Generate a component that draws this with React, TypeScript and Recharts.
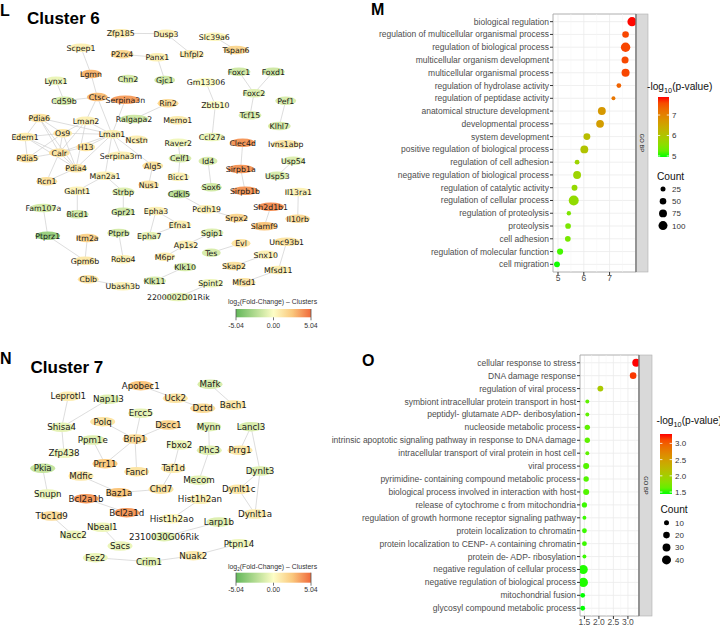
import React from "react";
import {
  ScatterChart,
  Scatter,
  XAxis,
  YAxis,
  CartesianGrid,
  ReferenceLine,
  ReferenceArea,
} from "recharts";

// ---------- Cluster 6 network: [gene, layoutX, layoutY, log2 fold change] ----------
const cluster6Nodes: [string, number, number, number][] = [
  ["Zfp185", 120.7, 33.3, 0.8],
  ["Dusp3", 166, 33.7, 0.7],
  ["Slc39a6", 214.3, 36.7, 0.3],
  ["Tspan6", 236, 50, 1.8],
  ["Scpep1", 81, 47.7, 0.6],
  ["P2rx4", 122, 54.3, 1.8],
  ["Panx1", 157.3, 57.3, 0.6],
  ["Lhfpl2", 191.7, 54.3, 0.8],
  ["Lgmn", 91, 74, 3.0],
  ["Chn2", 128, 79, -1.2],
  ["Gjc1", 164.7, 80, -1.5],
  ["Gm13306", 206, 82.3, 0.0],
  ["Foxc1", 239, 71.7, -1.5],
  ["Foxd1", 273.3, 71.7, -1.5],
  ["Lynx1", 56, 80.7, -0.6],
  ["Cd59b", 64, 100.7, -1.3],
  ["Ctsc", 97.3, 97, 2.8],
  ["Serpina3n", 125.3, 99.7, 3.6],
  ["Rin2", 168, 103.3, 1.6],
  ["Foxc2", 254, 93.3, -1.0],
  ["Pef1", 285.7, 100.7, -1.2],
  ["Zbtb10", 215.3, 105.3, 0.0],
  ["Tcf15", 250, 115.3, -1.2],
  ["Pdia6", 39.3, 118, 1.2],
  ["Lman2", 86, 120.7, 0.6],
  ["Ralgapa2", 134, 119, -1.5],
  ["Memo1", 177.7, 120.3, 0.8],
  ["Klhl7", 279.3, 126, -1.2],
  ["Edem1", 25, 137, 0.8],
  ["Os9", 62.7, 133.3, 1.0],
  ["Lman1", 112, 134.3, 0.6],
  ["Ncstn", 136.7, 139.7, 0.7],
  ["Raver2", 178.3, 142.7, -0.4],
  ["Ccl27a", 212, 137, -0.6],
  ["Clec4d", 242.7, 142.7, 3.8],
  ["Ivns1abp", 285.7, 144.3, 1.0],
  ["H13", 85.7, 147, 1.2],
  ["Calr", 59.3, 152.7, 1.3],
  ["Serpina3m", 121, 155.7, 0.6],
  ["Pdia5", 27.3, 158.3, 1.4],
  ["Celf1", 180, 158.3, -1.2],
  ["Id4", 208, 161, -1.2],
  ["Usp54", 293.3, 160.7, -1.0],
  ["Alg5", 152.7, 165.7, 1.3],
  ["Sirpb1a", 240.7, 169, 3.8],
  ["Pdia4", 76, 168.3, 1.1],
  ["Man2a1", 105, 175.7, 0.5],
  ["Bicc1", 178.3, 176.7, 0.5],
  ["Usp53", 277.3, 175.7, -1.2],
  ["Rcn1", 46.7, 181.3, 1.4],
  ["Nus1", 148.7, 184.7, 1.2],
  ["Galnt1", 77.3, 190.7, 0.5],
  ["Strbp", 123.3, 191.7, -1.0],
  ["Cdkl5", 179, 194, -2.2],
  ["Sox6", 211.3, 187.3, -1.4],
  ["Sirpb1b", 245, 190.7, 3.8],
  ["Il13ra1", 298.3, 192, 0.5],
  ["Fam107a", 43.3, 208, -1.3],
  ["Pcdh19", 206.7, 209.3, 0.6],
  ["Epha3", 156, 211, 0.6],
  ["Sh2d1b1", 270.7, 206.7, 4.0],
  ["Bicd1", 77.3, 214.3, -1.4],
  ["Gpr21", 123.3, 211.7, -1.5],
  ["Srpx2", 236.7, 218, 1.8],
  ["Il10rb", 297.7, 218.7, 1.6],
  ["Efna1", 180, 224.7, 0.6],
  ["Slamf9", 264.3, 226.3, 2.6],
  ["Ptprz1", 47.7, 235.7, -3.2],
  ["Itm2a", 87.3, 238, 2.0],
  ["Ptprb", 118.7, 233, -1.3],
  ["Epha7", 149.3, 236, -0.7],
  ["Sgip1", 212, 232.7, -1.0],
  ["Unc93b1", 286.7, 241.7, 1.2],
  ["Ap1s2", 186, 244.7, 0.6],
  ["Evl", 241, 243.3, 1.2],
  ["Tes", 211.3, 252.7, -1.2],
  ["Snx10", 265.7, 254.7, 0.6],
  ["Gpm6b", 85, 260.7, 1.0],
  ["Robo4", 123.3, 259.3, 0.6],
  ["M6pr", 164.7, 256.7, 0.8],
  ["Skap2", 234, 266, 1.3],
  ["Klk10", 185, 267, -1.3],
  ["Mfsd11", 278.3, 270, 0.7],
  ["Cblb", 88.3, 279.3, 1.2],
  ["Ubash3b", 122.7, 286.3, 0.5],
  ["Klk11", 154.7, 280.7, -1.2],
  ["Spint2", 210.7, 283.3, -0.5],
  ["Mfsd1", 244, 282.3, 1.2],
  ["2200002D01Rik", 178.3, 297, -0.8],
];

const cluster6Edges: [string, string][] = [
  ["Zfp185", "Dusp3"], ["Dusp3", "Lhfpl2"], ["Slc39a6", "Tspan6"],
  ["P2rx4", "Panx1"], ["Panx1", "Gjc1"], ["Scpep1", "Lgmn"], ["Lgmn", "Ctsc"],
  ["Ctsc", "Cd59b"], ["Ctsc", "Lman2"], ["Ctsc", "Lman1"], ["Lynx1", "Cd59b"],
  ["Foxc1", "Foxc2"], ["Foxd1", "Foxc2"], ["Foxc2", "Tcf15"], ["Pef1", "Klhl7"],
  ["Gm13306", "Zbtb10"], ["Zbtb10", "Ccl27a"], ["Rin2", "Ralgapa2"],
  ["Raver2", "Celf1"], ["Celf1", "Bicc1"], ["Clec4d", "Sirpb1a"], ["Sirpb1a", "Sirpb1b"],
  ["Id4", "Sox6"], ["Usp54", "Usp53"], ["Cdkl5", "Pcdh19"], ["Pcdh19", "Srpx2"],
  ["Sh2d1b1", "Slamf9"], ["Il13ra1", "Il10rb"], ["Fam107a", "Ptprz1"],
  ["Ptprz1", "Gpm6b"], ["Itm2a", "Gpm6b"], ["Galnt1", "Bicd1"], ["Strbp", "Gpr21"],
  ["Man2a1", "Strbp"], ["Ptprb", "Robo4"], ["Epha3", "Epha7"], ["Epha3", "Efna1"],
  ["Efna1", "Epha7"], ["Ap1s2", "Sgip1"], ["Ap1s2", "M6pr"], ["Tes", "Evl"],
  ["Skap2", "Snx10"], ["Unc93b1", "Mfsd11"], ["Mfsd11", "Mfsd1"], ["Klk10", "Klk11"],
  ["Spint2", "2200002D01Rik"], ["Cblb", "Ubash3b"],
  ["Pdia6", "Os9"], ["Pdia6", "Edem1"], ["Pdia6", "Calr"], ["Pdia6", "Lman1"],
  ["Pdia6", "Pdia4"], ["Edem1", "Os9"], ["Edem1", "Calr"], ["Edem1", "Pdia5"],
  ["Edem1", "Pdia4"], ["Os9", "Lman1"], ["Os9", "Calr"], ["Os9", "Pdia5"],
  ["Os9", "Pdia4"], ["Os9", "Lman2"], ["Calr", "Lman1"], ["Calr", "H13"],
  ["Calr", "Pdia4"], ["Calr", "Pdia5"], ["Calr", "Rcn1"], ["Calr", "Lman2"],
  ["Pdia4", "Lman1"], ["Pdia4", "Rcn1"], ["Pdia4", "Lman2"], ["H13", "Lman1"],
  ["Lman2", "Lman1"], ["Lman1", "Serpina3m"], ["Lman1", "Ncstn"], ["Lman1", "Alg5"],
  ["Lman1", "Man2a1"], ["Lman1", "Serpina3n"], ["Alg5", "Nus1"], ["Man2a1", "Galnt1"],
];

// ---------- Cluster 7 network ----------
const cluster7Nodes: [string, number, number, number][] = [
  ["Apobec1", 140.7, 385.7, 2.6],
  ["Mafk", 210, 384.3, -1.2],
  ["Leprotl1", 68.3, 396.3, 0.8],
  ["Nap1l3", 108.3, 399.3, -1.0],
  ["Uck2", 175.3, 398.3, 1.2],
  ["Dctd", 202.7, 408.3, 1.6],
  ["Bach1", 233.3, 405, 1.0],
  ["Ercc5", 140.7, 413.3, -0.8],
  ["Polq", 102.7, 421.7, 1.2],
  ["Dscc1", 168.3, 425, 2.0],
  ["Shisa4", 61.7, 427.3, -0.8],
  ["Mynn", 208.7, 426.7, -1.0],
  ["Lancl3", 251, 426.7, -1.2],
  ["Ppm1e", 92.7, 440, -1.0],
  ["Brip1", 135, 439, 1.6],
  ["Fbxo2", 179.3, 445, -0.5],
  ["Phc3", 209.3, 450.3, -1.0],
  ["Prrg1", 240, 450.3, 1.0],
  ["Zfp438", 64, 453.3, -0.5],
  ["Pkia", 42.7, 468.3, -1.8],
  ["Prr11", 105, 463.7, 2.4],
  ["Fancl", 136.7, 471.7, 1.2],
  ["Taf1d", 173.3, 468.3, 0.8],
  ["Dynlt3", 260, 471, -1.0],
  ["Mdfic", 81, 476, 1.0],
  ["Mecom", 199, 480.2, -0.8],
  ["Chd7", 161, 489.2, 1.3],
  ["Dynlt1c", 238.7, 489.3, 1.0],
  ["Snupn", 47.7, 494, -0.6],
  ["Bcl2a1b", 86, 498.7, 3.8],
  ["Baz1a", 119, 492.7, 2.6],
  ["Hist1h2an", 200, 499.3, 0.6],
  ["Tbc1d9", 51.7, 516, 1.6],
  ["Bcl2a1d", 126.7, 512.7, 3.8],
  ["Hist1h2ao", 171.7, 518.7, 0.3],
  ["Dynlt1a", 255, 514, 0.8],
  ["Larp1b", 219, 522, -1.0],
  ["Nbeal1", 102.3, 527.3, -0.5],
  ["Nacc2", 73.3, 535.3, -0.5],
  ["2310030G06Rik", 164, 536.7, -1.0],
  ["Sacs", 120, 546, -0.6],
  ["Ptpn14", 239, 543.7, -0.5],
  ["Nuak2", 193.3, 555.7, 0.9],
  ["Fez2", 95.3, 557.7, -0.6],
  ["Crim1", 149, 561.7, -0.9],
];

const cluster7Edges: [string, string][] = [
  ["Leprotl1", "Shisa4"], ["Nap1l3", "Shisa4"], ["Apobec1", "Uck2"], ["Uck2", "Dctd"],
  ["Mafk", "Bach1"], ["Shisa4", "Zfp438"], ["Polq", "Brip1"], ["Ercc5", "Brip1"],
  ["Dscc1", "Brip1"], ["Brip1", "Fancl"], ["Brip1", "Prr11"], ["Ppm1e", "Prr11"],
  ["Mynn", "Phc3"], ["Phc3", "Mecom"], ["Lancl3", "Prrg1"], ["Lancl3", "Dynlt3"],
  ["Fbxo2", "Taf1d"], ["Taf1d", "Chd7"], ["Pkia", "Snupn"], ["Mdfic", "Baz1a"],
  ["Baz1a", "Chd7"], ["Dynlt3", "Dynlt1c"], ["Dynlt3", "Dynlt1a"], ["Dynlt1c", "Dynlt1a"],
  ["Bcl2a1b", "Bcl2a1d"], ["Hist1h2an", "Hist1h2ao"], ["Tbc1d9", "Nacc2"],
  ["Nbeal1", "Sacs"], ["Larp1b", "2310030G06Rik"], ["Fez2", "Crim1"],
  ["Crim1", "Nuak2"], ["Nuak2", "Ptpn14"],
];

// ---------- GO enrichment, cluster 6 ----------
const goTerms6 = [
  "biological regulation",
  "regulation of multicellular organismal process",
  "regulation of biological process",
  "multicellular organism development",
  "multicellular organismal process",
  "regulation of hydrolase activity",
  "regulation of peptidase activity",
  "anatomical structure development",
  "developmental process",
  "system development",
  "positive regulation of biological process",
  "regulation of cell adhesion",
  "negative regulation of biological process",
  "regulation of catalytic activity",
  "regulation of cellular process",
  "regulation of proteolysis",
  "proteolysis",
  "cell adhesion",
  "regulation of molecular function",
  "cell migration",
];
const goLogP6 = [7.87, 7.62, 7.62, 7.6, 7.62, 7.36, 7.15, 6.7, 6.63, 6.12, 6.02, 5.74, 5.74, 5.64, 5.61, 5.42, 5.39, 5.38, 5.08, 4.96];
const goCount6 = [105, 50, 110, 58, 78, 22, 12, 75, 72, 55, 75, 22, 75, 38, 125, 17, 35, 35, 42, 38];
const goTicks6 = [5, 6, 7];
const goMinor6 = [5.5, 6.5, 7.5];
const countKeys6 = [25, 50, 75, 100];

// ---------- GO enrichment, cluster 7 ----------
const goTerms7 = [
  "cellular response to stress",
  "DNA damage response",
  "regulation of viral process",
  "symbiont intracellular protein transport in host",
  "peptidyl- glutamate ADP- deribosylation",
  "nucleoside metabolic process",
  "intrinsic apoptotic signaling pathway in response to DNA damage",
  "intracellular transport of viral protein in host cell",
  "viral process",
  "pyrimidine- containing compound metabolic process",
  "biological process involved in interaction with host",
  "release of cytochrome c from mitochondria",
  "regulation of growth hormone receptor signaling pathway",
  "protein localization to chromatin",
  "protein localization to CENP- A containing chromatin",
  "protein de- ADP- ribosylation",
  "negative regulation of cellular process",
  "negative regulation of biological process",
  "mitochondrial fusion",
  "glycosyl compound metabolic process",
];
const goLogP7 = [3.29, 3.18, 2.05, 1.6, 1.6, 1.6, 1.6, 1.6, 1.56, 1.56, 1.56, 1.5, 1.5, 1.5, 1.5, 1.5, 1.46, 1.46, 1.44, 1.44];
const goCount7 = [32, 20, 15, 5, 5, 12, 12, 5, 16, 12, 16, 11, 5, 9, 9, 5, 41, 44, 9, 9];
const goTicks7 = [1.5, 2, 2.5, 3];
const goMinor7 = [1.75, 2.25, 2.75, 3.25];
const countKeys7 = [10, 20, 30, 40];

// ---------- colour helpers ----------
const toLin = (c: number) => {
  c /= 255;
  return c <= 0.04045 ? c / 12.92 : Math.pow((c + 0.055) / 1.055, 2.4);
};
const fromLin = (c: number) => {
  const v = c <= 0.0031308 ? 12.92 * c : 1.055 * Math.pow(c, 1 / 2.4) - 0.055;
  return Math.round(Math.max(0, Math.min(1, v)) * 255);
};
function rgbToLab([r, g, b]: number[]) {
  const R = toLin(r), G = toLin(g), B = toLin(b);
  const X = (0.4124 * R + 0.3576 * G + 0.1805 * B) / 0.95047;
  const Y = 0.2126 * R + 0.7152 * G + 0.0722 * B;
  const Z = (0.0193 * R + 0.1192 * G + 0.9505 * B) / 1.08883;
  const f = (t: number) => (t > 0.008856 ? Math.cbrt(t) : 7.787 * t + 16 / 116);
  return [116 * f(Y) - 16, 500 * (f(X) - f(Y)), 200 * (f(Y) - f(Z))];
}
function labToHex([L, a, b]: number[]) {
  const fy = (L + 16) / 116, fx = fy + a / 500, fz = fy - b / 200;
  const inv = (t: number) => (t ** 3 > 0.008856 ? t ** 3 : (t - 16 / 116) / 7.787);
  const X = inv(fx) * 0.95047, Y = inv(fy), Z = inv(fz) * 1.08883;
  const r = fromLin(3.2406 * X - 1.5372 * Y - 0.4986 * Z);
  const g = fromLin(-0.9689 * X + 1.8758 * Y + 0.0415 * Z);
  const bl = fromLin(0.0557 * X - 0.204 * Y + 1.057 * Z);
  return `rgb(${r},${g},${bl})`;
}
const LAB_LOW = rgbToLab([0, 255, 0]);
const LAB_HIGH = rgbToLab([255, 0, 0]);
function pColor(v: number, lim: number[]) {
  const t = Math.max(0, Math.min(1, (v - lim[0]) / (lim[1] - lim[0])));
  return labToHex(LAB_LOW.map((c, i) => c + (LAB_HIGH[i] - c) * t));
}

// fold-change palette: green -> pale yellow -> light orange -> orange-red
const FC_LOW = [99, 183, 90];
const FC_MID = [253, 253, 198];
const FC_WARM = [250, 200, 125];
const FC_HIGH = [240, 105, 58];
const mix = (a: number[], b: number[], u: number) => a.map((c, i) => Math.round(c + (b[i] - c) * u));
function foldColor(v: number) {
  const t = Math.max(-1, Math.min(1, v / 5.04));
  let c: number[];
  if (t < 0) c = mix(FC_MID, FC_LOW, -t);
  else if (t < 0.5) c = mix(FC_MID, FC_WARM, t / 0.5);
  else c = mix(FC_WARM, FC_HIGH, (t - 0.5) / 0.5);
  return `rgb(${c[0]},${c[1]},${c[2]})`;
}

function makeRadius(c0: number, r0: number, c1: number, r1: number) {
  return (count: number) =>
    Math.sqrt(Math.max(1.4, r0 * r0 + ((count - c0) * (r1 * r1 - r0 * r0)) / (c1 - c0)));
}
const radius6 = makeRadius(25, 2.5, 100, 4.5);
const radius7 = makeRadius(10, 2.5, 40, 4.5);

const SANS = "'Liberation Sans', Arial, Helvetica, sans-serif";
const NODE_FONT = "'DejaVu Sans', Verdana, sans-serif";

// ---------- network panel ----------
function Network({
  nodes,
  edges,
  top,
  width,
  height,
  fontSize,
  fixedRx,
}: {
  nodes: [string, number, number, number][];
  edges: [string, string][];
  top: number;
  width: number;
  height: number;
  fontSize: number;
  fixedRx?: number;
}) {
  const data = nodes.map(([name, x, y, fc]) => ({ name, x, y, fc }));
  const byName: Record<string, { x: number; y: number }> = {};
  data.forEach((d) => (byName[d.name] = d));

  const NodeShape = (props: any) => {
    const { cx, cy, payload } = props;
    const rx = fixedRx ?? Math.min(14.5, 6.5 + payload.name.length);
    return (
      <g>
        <ellipse cx={cx} cy={cy} rx={rx} ry={fixedRx ? 4.8 : 4.3} fill={foldColor(payload.fc)} />
        <text
          x={cx}
          y={cy}
          dy={fontSize * 0.36}
          textAnchor="middle"
          fontSize={fontSize}
          fontFamily={NODE_FONT}
          fill="#1a1a1a">
          {payload.name}
        </text>
      </g>
    );
  };

  return (
    <ScatterChart
      width={width}
      height={height}
      margin={{ top: 0, right: 0, bottom: 0, left: 0 }}>
      <XAxis type="number" dataKey="x" domain={[0, width]} hide allowDataOverflow />
      <YAxis type="number" dataKey="y" domain={[top, top + height]} reversed hide allowDataOverflow />
      {edges.map(([a, b]) => (
        <ReferenceLine
          key={a + "-" + b}
          segment={[
            { x: byName[a].x, y: byName[a].y },
            { x: byName[b].x, y: byName[b].y },
          ]}
          stroke="#cfcfcf"
          strokeWidth={0.7}
        />
      ))}
      <Scatter data={data} shape={NodeShape} isAnimationActive={false} />
    </ScatterChart>
  );
}

// ---------- GO dot plot ----------
function GoDotPlot({
  terms,
  logp,
  counts,
  ticks,
  minor,
  domain,
  lim,
  radius,
  fmt,
  width,
  height,
  marginTop,
  yAxisWidth,
  xAxisHeight,
}: {
  terms: string[];
  logp: number[];
  counts: number[];
  ticks: number[];
  minor: number[];
  domain: [number, number];
  lim: number[];
  radius: (c: number) => number;
  fmt: (v: number) => string;
  width: number;
  height: number;
  marginTop: number;
  yAxisWidth: number;
  xAxisHeight: number;
}) {
  const rows = terms.map((term, i) => ({ term, idx: i, logp: logp[i], count: counts[i] }));
  const n = terms.length;
  const tickStyle = { fontSize: 8.5, fill: "#4d4d4d", fontFamily: SANS };

  // plain one-line tick text (recharts would otherwise wrap long terms)
  const TermTick = (p: any) => (
    <text
      x={p.x}
      y={p.y}
      dy={3}
      textAnchor="end"
      fontSize={8.5}
      fill="#4d4d4d"
      fontFamily={SANS}>
      {terms[p.payload.value]}
    </text>
  );

  return (
    <ScatterChart
      width={width}
      height={height}
      margin={{ top: marginTop, right: 0, bottom: 0, left: 0 }}>
      <CartesianGrid stroke="#ebebeb" strokeWidth={0.8} fill="#ffffff" />
      {minor.map((v) => (
        <ReferenceLine key={v} x={v} stroke="#f4f4f4" strokeWidth={0.5} />
      ))}
      <XAxis
        type="number"
        dataKey="logp"
        domain={domain}
        ticks={ticks}
        allowDataOverflow
        height={xAxisHeight}
        axisLine={false}
        tickSize={3}
        tickMargin={0}
        tickLine={{ stroke: "#333" }}
        tick={tickStyle}
        tickFormatter={fmt}
        interval={0}
      />
      <YAxis
        type="number"
        dataKey="idx"
        domain={[-0.6, n - 0.4]}
        reversed
        ticks={rows.map((r) => r.idx)}
        interval={0}
        allowDataOverflow
        width={yAxisWidth}
        axisLine={false}
        tickSize={3}
        tickMargin={1}
        tickLine={{ stroke: "#333" }}
        tick={TermTick}
      />
      <ReferenceArea
        x1={domain[0]}
        x2={domain[1]}
        y1={-0.6}
        y2={n - 0.4}
        fill="none"
        fillOpacity={0}
        stroke="#a6a6a6"
        strokeWidth={0.8}
      />
      <Scatter
        data={rows}
        isAnimationActive={false}
        shape={(p: any) => (
          <circle
            cx={p.cx}
            cy={p.cy}
            r={radius(p.payload.count)}
            fill={pColor(p.payload.logp, lim)}
          />
        )}
      />
    </ScatterChart>
  );
}

// ---------- legends (svg overlay pieces) ----------
function ColorBar({
  id, x, y, w, h, lim, keys, fmt, titleX, titleY,
}: {
  id: string; x: number; y: number; w: number; h: number; lim: number[];
  keys: number[]; fmt: (v: number) => string; titleX: number; titleY: number;
}) {
  const stops = [0, 0.1, 0.2, 0.3, 0.4, 0.5, 0.6, 0.7, 0.8, 0.9, 1];
  return (
    <g>
      <defs>
        <linearGradient id={id} x1="0" y1="1" x2="0" y2="0">
          {stops.map((s) => (
            <stop key={s} offset={s} stopColor={pColor(lim[0] + s * (lim[1] - lim[0]), lim)} />
          ))}
        </linearGradient>
      </defs>
      <text x={titleX} y={titleY} fontSize={10.2} fill="#111">
        -log<tspan dy={2.8} fontSize={7.3}>10</tspan>
        <tspan dy={-2.8}>(p-value)</tspan>
      </text>
      <rect x={x} y={y} width={w} height={h} fill={`url(#${id})`} />
      {keys.map((k) => {
        const yy = y + h - ((k - lim[0]) / (lim[1] - lim[0])) * h;
        return (
          <g key={k}>
            <line x1={x} x2={x + w * 0.2} y1={yy} y2={yy} stroke="#fff" strokeWidth={0.8} />
            <line x1={x + w * 0.8} x2={x + w} y1={yy} y2={yy} stroke="#fff" strokeWidth={0.8} />
            <text x={x + w + 3} y={yy} dy={2.9} fontSize={8} fill="#333">
              {fmt(k)}
            </text>
          </g>
        );
      })}
    </g>
  );
}

function CountKey({
  keys, radius, x, titleY, firstY, step, labelX,
}: {
  keys: number[]; radius: (c: number) => number; x: number; titleY: number;
  firstY: number; step: number; labelX: number;
}) {
  return (
    <g>
      <text x={x - 6} y={titleY} fontSize={10.2} fill="#111">
        Count
      </text>
      {keys.map((k, i) => (
        <g key={k}>
          <circle cx={x} cy={firstY + i * step} r={radius(k)} fill="#000" />
          <text x={labelX} y={firstY + i * step} dy={2.9} fontSize={8} fill="#333">
            {k}
          </text>
        </g>
      ))}
    </g>
  );
}

function FoldLegend({
  id, titleY, barY, barH, labelY,
}: { id: string; titleY: number; barY: number; barH: number; labelY: number }) {
  const x0 = 236, x1 = 311, xm = (x0 + x1) / 2;
  const c = (v: number[]) => `rgb(${v[0]},${v[1]},${v[2]})`;
  return (
    <g fontSize={6.9} fill="#333">
      <defs>
        <linearGradient id={id} x1="0" y1="0" x2="1" y2="0">
          <stop offset={0} stopColor={c(FC_LOW)} />
          <stop offset={0.5} stopColor={c(FC_MID)} />
          <stop offset={0.75} stopColor={c(FC_WARM)} />
          <stop offset={1} stopColor={c(FC_HIGH)} />
        </linearGradient>
      </defs>
      <text x={228} y={titleY}>
        log<tspan dy={1.5} fontSize={4.5}>2</tspan>
        <tspan dy={-1.5}>(Fold-Change) – Clusters</tspan>
      </text>
      <rect x={x0} y={barY} width={x1 - x0} height={barH} fill={`url(#${id})`} />
      <line x1={x0} x2={x0} y1={barY} y2={barY + barH + 3} stroke="#555" strokeWidth={0.8} />
      <line x1={x1} x2={x1} y1={barY} y2={barY + barH + 3} stroke="#555" strokeWidth={0.8} />
      <line x1={xm} x2={xm} y1={barY + barH} y2={barY + barH + 3} stroke="#555" strokeWidth={0.8} />
      <text x={x0} y={labelY} textAnchor="middle">-5.04</text>
      <text x={xm} y={labelY} textAnchor="middle">0.00</text>
      <text x={x1} y={labelY} textAnchor="middle">5.04</text>
    </g>
  );
}

function Strip({ x, y, w, h }: { x: number; y: number; w: number; h: number }) {
  const cx = x + w / 2, cy = y + h / 2;
  return (
    <g>
      <rect x={x} y={y} width={w} height={h} fill="#d9d9d9" stroke="#b0b0b0" strokeWidth={0.6} />
      <line x1={x} x2={x} y1={y} y2={y + h} stroke="#6e6e6e" strokeWidth={1.2} />
      <text
        x={cx}
        y={cy}
        dy={2}
        fontSize={5.8}
        fill="#1a1a1a"
        textAnchor="middle"
        transform={`rotate(90 ${cx} ${cy})`}>
        GO BP
      </text>
    </g>
  );
}

export default function App() {
  const lim6 = [4.95, 7.88];
  const lim7 = [1.44, 3.29];
  const fmt6 = (v: number) => String(v);
  const fmt7 = (v: number) => v.toFixed(1);

  return (
    <div
      style={{
        position: "absolute",
        left: 0,
        top: 0,
        width: 720,
        height: 627,
        background: "#fff",
        overflow: "hidden",
        fontFamily: SANS,
      }}>
      <div style={{ position: "absolute", left: 0, top: 0 }}>
        <Network nodes={cluster6Nodes} edges={cluster6Edges} top={0} width={340} height={310} fontSize={7.8} />
      </div>
      <div style={{ position: "absolute", left: 0, top: 330 }}>
        <Network nodes={cluster7Nodes} edges={cluster7Edges} top={330} width={320} height={297} fontSize={8.7} fixedRx={12.5} />
      </div>
      <div style={{ position: "absolute", left: 360, top: 0 }}>
        <GoDotPlot
          terms={goTerms6}
          logp={goLogP6}
          counts={goCount6}
          ticks={goTicks6}
          minor={goMinor6}
          domain={[4.8055, 8.0245]}
          lim={lim6}
          radius={radius6}
          fmt={fmt6}
          width={276}
          height={290}
          marginTop={14}
          yAxisWidth={193}
          xAxisHeight={18}
        />
      </div>
      <div style={{ position: "absolute", left: 320, top: 330 }}>
        <GoDotPlot
          terms={goTerms7}
          logp={goLogP7}
          counts={goCount7}
          ticks={goTicks7}
          minor={goMinor7}
          domain={[1.3475, 3.3825]}
          lim={lim7}
          radius={radius7}
          fmt={fmt7}
          width={319}
          height={297}
          marginTop={25}
          yAxisWidth={260}
          xAxisHeight={11}
        />
      </div>

      <svg
        width={720}
        height={627}
        style={{ position: "absolute", left: 0, top: 0, pointerEvents: "none" }}
        fontFamily={SANS}>
        <text x={0} y={16} fontSize={16} fontWeight="bold" fill="#000">L</text>
        <text x={27} y={23.5} fontSize={17} fontWeight="bold" fill="#000">Cluster 6</text>
        <text x={371} y={15} fontSize={16} fontWeight="bold" fill="#000">M</text>
        <text x={0} y={363.5} fontSize={16} fontWeight="bold" fill="#000">N</text>
        <text x={30.5} y={372.5} fontSize={17} fontWeight="bold" fill="#000">Cluster 7</text>
        <text x={362} y={366} fontSize={16} fontWeight="bold" fill="#000">O</text>

        <FoldLegend id="fold6" titleY={304} barY={309} barH={8.3} labelY={327.7} />
        <FoldLegend id="fold7" titleY={569} barY={572.7} barH={10} labelY={592.3} />

        <Strip x={636} y={14} w={12} h={258} />
        <Strip x={639} y={355} w={13} h={261} />

        <ColorBar id="p6" x={658} y={97} w={11} h={60} lim={lim6} keys={[5, 6, 7]} fmt={fmt6} titleX={647} titleY={90} />
        <CountKey keys={countKeys6} radius={radius6} x={663} titleY={180} firstY={189} step={12.2} labelX={672} />

        <ColorBar id="p7" x={660} y={434} w={12} h={60} lim={lim7} keys={[1.5, 2, 2.5, 3]} fmt={fmt7} titleX={656.5} titleY={424} />
        <CountKey keys={countKeys7} radius={radius7} x={666.5} titleY={513} firstY={522.7} step={12.4} labelX={675} />
      </svg>
    </div>
  );
}
